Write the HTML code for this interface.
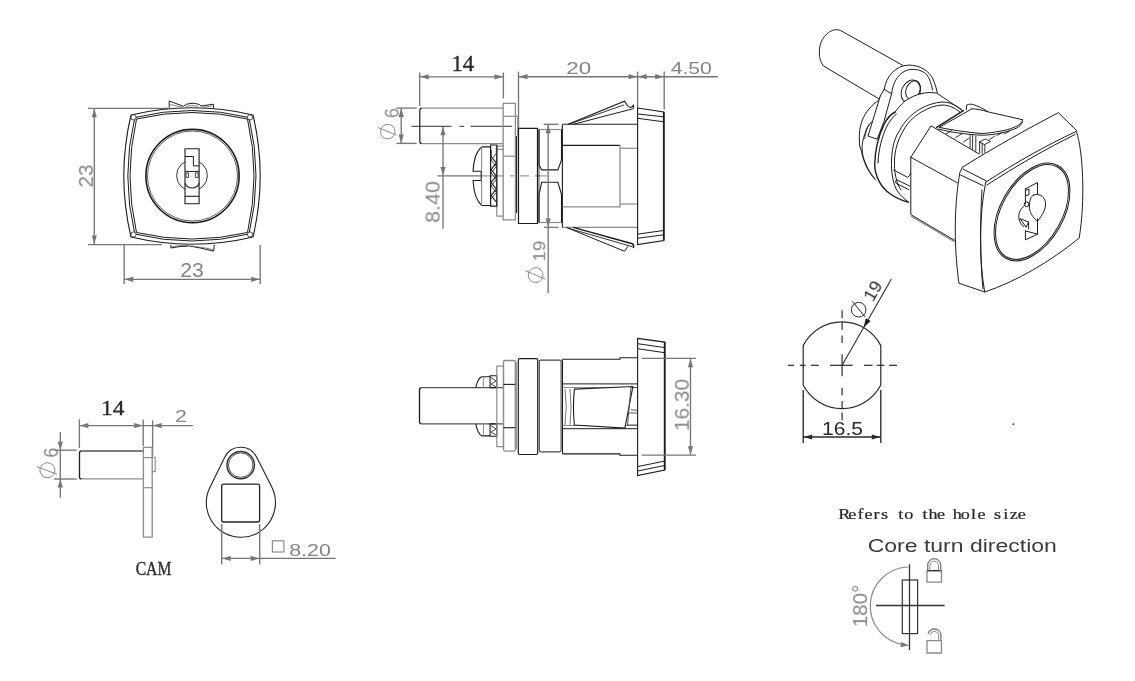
<!DOCTYPE html>
<html><head><meta charset="utf-8"><style>
html,body{margin:0;padding:0;background:#fff;}
svg{display:block;}
svg text{will-change:transform;}
</style></head><body>
<svg width="1135" height="681" viewBox="0 0 1135 681">
<rect width="1135" height="681" fill="#fff"/>
<line x1="88" y1="108.3" x2="168" y2="108.3" stroke="#767676" stroke-width="1.35" />
<line x1="88" y1="244.6" x2="162" y2="244.6" stroke="#767676" stroke-width="1.35" />
<line x1="94.3" y1="108.3" x2="94.3" y2="244.6" stroke="#767676" stroke-width="1.35" />
<path d="M94.30,108.80 L96.90,117.30 L91.70,117.30 Z" fill="#767676"/>
<path d="M94.30,244.10 L91.70,235.60 L96.90,235.60 Z" fill="#767676"/>
<line x1="124.2" y1="245" x2="124.2" y2="284" stroke="#767676" stroke-width="1.35" />
<line x1="260.2" y1="245" x2="260.2" y2="284" stroke="#767676" stroke-width="1.35" />
<line x1="124.2" y1="279.3" x2="260.2" y2="279.3" stroke="#767676" stroke-width="1.35" />
<path d="M124.70,279.30 L133.20,276.70 L133.20,281.90 Z" fill="#767676"/>
<path d="M259.70,279.30 L251.20,281.90 L251.20,276.70 Z" fill="#767676"/>
<path d="M131,115 Q192.0,100.6 253,115 Q267.4,176.0 253,237 Q192.0,251.4 131,237 Q116.6,176.0 131,115 Z" stroke="#1c1c1c" stroke-width="1.1" fill="none" />
<path d="M134.8,117.5 Q191.9,103.5 249,117.5 Q263.0,175.75 249,234 Q191.9,248.0 134.8,234 Q120.80000000000001,175.75 134.8,117.5 Z" stroke="#1c1c1c" stroke-width="1.0" fill="none" />
<path d="M136.5,119 Q192.0,106.0 247.5,119 Q260.5,175.75 247.5,232.5 Q192.0,245.5 136.5,232.5 Q123.5,175.75 136.5,119 Z" stroke="#1c1c1c" stroke-width="1.0" fill="none" />
<circle cx="133.5" cy="117.3" r="2.6" stroke="#1c1c1c" stroke-width="0.8" fill="#fff"/>
<circle cx="250" cy="117.3" r="2.6" stroke="#1c1c1c" stroke-width="0.8" fill="#fff"/>
<circle cx="250" cy="234.5" r="2.6" stroke="#1c1c1c" stroke-width="0.8" fill="#fff"/>
<circle cx="133.5" cy="234.5" r="2.6" stroke="#1c1c1c" stroke-width="0.8" fill="#fff"/>
<path d="M169.2,108 L169.2,101 L183.5,106.3 Q185,103.8 192,103.2 Q199,103.5 201,106 L213.4,104.2 L213.4,108" stroke="#1c1c1c" stroke-width="1.0" fill="none" />
<path d="M170.5,104.5 L182,107.3 M186,106.3 Q192,104.8 198,106.3 M202,107.4 L212,106" stroke="#666" stroke-width="0.8" fill="none" />
<path d="M170.9,244.8 L170.9,248 Q180,246 189.4,246 Q200,247.5 213.7,251.2 L214.3,244.8" stroke="#1c1c1c" stroke-width="1.0" fill="none" />
<path d="M172,246.6 Q180,245.2 188,245.4 M192,246.2 Q203,247 213,249.6" stroke="#666" stroke-width="0.8" fill="none" />
<circle cx="192.5" cy="176" r="46.6" stroke="#1c1c1c" stroke-width="1.6" fill="none"/>
<circle cx="192.5" cy="176" r="45" stroke="#1c1c1c" stroke-width="0.7" fill="none"/>
<circle cx="192" cy="175.5" r="15.4" stroke="#1c1c1c" stroke-width="0.9" fill="none"/>
<path d="M185,148.8 L199.1,148.8 L199.1,203.8 L185,203.8 Z" stroke="#1c1c1c" stroke-width="1.1" fill="#fff" />
<path d="M185,156.5 L193.4,156.5 L193.4,165.9 L199.1,165.9" stroke="#1c1c1c" stroke-width="1.0" fill="none" />
<path d="M185,171.4 L199.1,171.4" stroke="#1c1c1c" stroke-width="1.0" fill="none" />
<path d="M186,172.9 L188.5,172.9 L188.5,177.4 L186,177.4 Z M195.4,172.9 L198.2,172.9 L198.2,177.4 L195.4,177.4 Z" stroke="#1c1c1c" stroke-width="0.8" fill="none" />
<path d="M185,183.3 A7.6,7.6 0 0 0 199.1,183.3" stroke="#1c1c1c" stroke-width="1.1" fill="none" />
<path d="M185,196.3 L199.1,196.3" stroke="#1c1c1c" stroke-width="1.1" fill="none" />
<line x1="419.7" y1="72.5" x2="419.7" y2="106" stroke="#767676" stroke-width="1.35" />
<line x1="503.4" y1="72.5" x2="503.4" y2="98.5" stroke="#767676" stroke-width="1.35" />
<line x1="419.7" y1="76.8" x2="503.4" y2="76.8" stroke="#767676" stroke-width="1.35" />
<path d="M420.20,76.80 L428.70,74.20 L428.70,79.40 Z" fill="#767676"/>
<path d="M502.90,76.80 L494.40,79.40 L494.40,74.20 Z" fill="#767676"/>
<line x1="518.5" y1="71.6" x2="518.5" y2="128.4" stroke="#767676" stroke-width="1.35" />
<line x1="637.6" y1="71.6" x2="637.6" y2="108" stroke="#767676" stroke-width="1.35" />
<line x1="664.2" y1="71.6" x2="664.2" y2="109.6" stroke="#767676" stroke-width="1.35" />
<line x1="518.5" y1="76.7" x2="717.9" y2="76.7" stroke="#767676" stroke-width="1.35" />
<path d="M519.00,76.70 L527.50,74.10 L527.50,79.30 Z" fill="#767676"/>
<path d="M637.10,76.70 L628.60,79.30 L628.60,74.10 Z" fill="#767676"/>
<path d="M638.10,76.70 L646.60,74.10 L646.60,79.30 Z" fill="#767676"/>
<path d="M663.70,76.70 L655.20,79.30 L655.20,74.10 Z" fill="#767676"/>
<line x1="396.4" y1="108.1" x2="416.7" y2="108.1" stroke="#767676" stroke-width="1.35" />
<line x1="396.4" y1="143.4" x2="416.7" y2="143.4" stroke="#767676" stroke-width="1.35" />
<line x1="401.2" y1="108.6" x2="401.2" y2="142.9" stroke="#767676" stroke-width="1.35" />
<path d="M401.20,108.60 L403.80,117.10 L398.60,117.10 Z" fill="#767676"/>
<path d="M401.20,142.90 L398.60,134.40 L403.80,134.40 Z" fill="#767676"/>
<line x1="443.0" y1="126.3" x2="443.0" y2="228.8" stroke="#767676" stroke-width="1.35" />
<path d="M443.00,126.80 L445.60,135.30 L440.40,135.30 Z" fill="#767676"/>
<path d="M443.00,175.40 L440.40,166.90 L445.60,166.90 Z" fill="#767676"/>
<line x1="437.4" y1="175.9" x2="481" y2="175.9" stroke="#767676" stroke-width="1.35" />
<line x1="411.3" y1="126.3" x2="451.5" y2="126.3" stroke="#333" stroke-width="1.0" />
<line x1="459.3" y1="126.3" x2="464.2" y2="126.3" stroke="#333" stroke-width="1.0" />
<line x1="470.5" y1="126.3" x2="512.1" y2="126.3" stroke="#333" stroke-width="1.0" />
<line x1="481" y1="175.9" x2="503.7" y2="175.9" stroke="#8c8c8c" stroke-width="1.1" />
<line x1="510" y1="175.9" x2="514.2" y2="175.9" stroke="#8c8c8c" stroke-width="1.1" />
<line x1="520" y1="175.9" x2="529" y2="175.9" stroke="#8c8c8c" stroke-width="1.1" />
<line x1="535" y1="175.9" x2="547.4" y2="175.9" stroke="#8c8c8c" stroke-width="1.1" />
<line x1="421.5" y1="108.2" x2="503" y2="108.2" stroke="#8c8c8c" stroke-width="1.3" />
<line x1="421.5" y1="143.6" x2="503" y2="143.6" stroke="#8c8c8c" stroke-width="1.3" />
<path d="M421.8,108.2 Q419.8,108.2 419.8,110.5 L419.8,141.3 Q419.8,143.6 421.8,143.6" stroke="#1c1c1c" stroke-width="1.2" fill="none" />
<path d="M503.2,103.4 L515.4,103.4 L515.4,219.8 L503.2,219.8 Z" stroke="#8c8c8c" stroke-width="1.3" fill="none" />
<line x1="503.2" y1="116.3" x2="517.7" y2="116.3" stroke="#8c8c8c" stroke-width="1.2" />
<line x1="503.2" y1="156.2" x2="515.4" y2="156.2" stroke="#8c8c8c" stroke-width="1.2" />
<line x1="517.7" y1="116.3" x2="517.7" y2="136" stroke="#8c8c8c" stroke-width="1.0" />
<line x1="516.6" y1="136" x2="516.6" y2="213" stroke="#1c1c1c" stroke-width="1.1" />
<path d="M496.8,146.2 L503.2,146.2 M496.8,149.4 L503.2,149.4 M496.8,146.2 L496.8,216.1 L503.2,216.1" stroke="#8c8c8c" stroke-width="1.2" fill="none" />
<path d="M490.6,145 L496.8,145 L496.8,206.1 L490.6,206.1 Z" stroke="#1c1c1c" stroke-width="1.2" fill="none" />
<path d="M491,150 L491.1,156.5 L496.3,163.0 L491.1,169.5 L496.3,176.0 L491.1,182.5 L496.3,189.0 L491.1,195.5 L496.3,202.0" stroke="#1c1c1c" stroke-width="1.2" fill="none" />
<path d="M496.3,147 L496.3,153.5 L491.1,160.0 L496.3,166.5 L491.1,173.0 L496.3,179.5 L491.1,186.0 L496.3,192.5 L491.1,199.0" stroke="#333" stroke-width="0.9" fill="none" />
<path d="M490.6,146.9 L481.8,146.9 Q474,153 473.1,171.2 L481.2,171.2 L481.2,180.5 L473.1,180.5 Q474,199 481.8,205.5 L490.6,205.5" stroke="#1c1c1c" stroke-width="1.1" fill="none" />
<line x1="481.6" y1="147" x2="481.6" y2="171" stroke="#8c8c8c" stroke-width="1.1" />
<line x1="481.6" y1="180.5" x2="481.6" y2="205.5" stroke="#8c8c8c" stroke-width="1.1" />
<path d="M518.5,128.4 L537.5,128.4 L537.5,223.5 L518.5,223.5 Z" stroke="#1c1c1c" stroke-width="1.2" fill="none" />
<line x1="539.0" y1="129.5" x2="539.0" y2="222.5" stroke="#1c1c1c" stroke-width="0.8" />
<line x1="538.9" y1="129.5" x2="561.5" y2="129.5" stroke="#8c8c8c" stroke-width="1.2" />
<line x1="538.9" y1="222.5" x2="561.5" y2="222.5" stroke="#8c8c8c" stroke-width="1.2" />
<path d="M539,129.5 L539,165 L541.7,169.9 L557.9,169.9 L561.5,160 L561.5,129.5" stroke="#1c1c1c" stroke-width="1.1" fill="none" />
<path d="M539,222.5 L539,194.6 L541.7,182.3 L557.9,182.3 L561.5,194.6 L561.5,222.5" stroke="#1c1c1c" stroke-width="1.1" fill="none" />
<line x1="543.8" y1="124.3" x2="558.6" y2="124.3" stroke="#767676" stroke-width="1.35" />
<line x1="543.8" y1="227.4" x2="558.6" y2="227.4" stroke="#767676" stroke-width="1.35" />
<line x1="548.2" y1="124.3" x2="548.2" y2="293" stroke="#767676" stroke-width="1.35" />
<path d="M548.20,124.80 L550.80,133.30 L545.60,133.30 Z" fill="#767676"/>
<path d="M548.20,226.90 L545.60,218.40 L550.80,218.40 Z" fill="#767676"/>
<line x1="562.4" y1="124.3" x2="637.6" y2="124.3" stroke="#1c1c1c" stroke-width="1.1" />
<line x1="562.4" y1="227.4" x2="637.6" y2="227.4" stroke="#8c8c8c" stroke-width="1.3" />
<line x1="562.4" y1="124.3" x2="562.4" y2="227.4" stroke="#1c1c1c" stroke-width="1.1" />
<line x1="562.4" y1="145.3" x2="620" y2="145.3" stroke="#1c1c1c" stroke-width="1.2" />
<path d="M620,145.3 L620,206.9 L562.4,206.9" stroke="#8c8c8c" stroke-width="1.3" fill="none" />
<line x1="620" y1="148.3" x2="637.6" y2="148.3" stroke="#8c8c8c" stroke-width="1.2" />
<line x1="620" y1="204" x2="637.6" y2="204" stroke="#8c8c8c" stroke-width="1.2" />
<path d="M637.6,108 L663.8,111.9 L663.8,240.6 L637.6,244.6 Z" stroke="#1c1c1c" stroke-width="1.1" fill="none" />
<line x1="663.8" y1="112" x2="663.8" y2="240.5" stroke="#1c1c1c" stroke-width="1.8" />
<line x1="637.6" y1="114" x2="663.8" y2="116.8" stroke="#1c1c1c" stroke-width="1.0" />
<line x1="637.6" y1="118.3" x2="663.8" y2="121.8" stroke="#1c1c1c" stroke-width="1.0" />
<line x1="637.6" y1="238.3" x2="663.8" y2="234.8" stroke="#1c1c1c" stroke-width="1.0" />
<line x1="637.6" y1="234.1" x2="663.8" y2="230.5" stroke="#1c1c1c" stroke-width="1.0" />
<path d="M568.1,124.3 L624.5,101.2 C626,103 627,106.5 629.5,107.2 C631.5,107.6 633,106.5 633.5,104.6 L633.5,108.2" stroke="#1c1c1c" stroke-width="1.1" fill="none" />
<path d="M568.7,124.3 L624,104.9" stroke="#1c1c1c" stroke-width="0.9" fill="none" />
<path d="M573.3,124.3 L633.3,108.7" stroke="#1c1c1c" stroke-width="1.0" fill="none" />
<path d="M566.3,227.4 L624.6,251.3 L627.9,246.3" stroke="#1c1c1c" stroke-width="1.0" fill="none" />
<path d="M567.5,228 L632.3,246.7" stroke="#1c1c1c" stroke-width="0.9" fill="none" />
<path d="M573.2,227.4 L632.3,243.7 Q634.2,244.6 633.4,248.1" stroke="#1c1c1c" stroke-width="1.5" fill="none" />
<line x1="421.5" y1="387.6" x2="503.5" y2="387.6" stroke="#555" stroke-width="1.2" />
<line x1="421.5" y1="423.9" x2="503.5" y2="423.9" stroke="#555" stroke-width="1.2" />
<path d="M421.5,387.6 Q419.5,387.6 419.5,390 L419.5,421.5 Q419.5,423.9 421.5,423.9" stroke="#1c1c1c" stroke-width="1.3" fill="none" />
<path d="M475.8,387.6 Q477.5,379 481.5,376.7 L490.1,376.7" stroke="#1c1c1c" stroke-width="1.1" fill="none" />
<path d="M475.8,423.9 Q477.5,433 481.5,435.9 L490.1,435.9" stroke="#1c1c1c" stroke-width="1.1" fill="none" />
<line x1="483.4" y1="376.7" x2="483.4" y2="387.6" stroke="#8c8c8c" stroke-width="1.0" />
<line x1="483.4" y1="423.9" x2="483.4" y2="435.9" stroke="#8c8c8c" stroke-width="1.0" />
<path d="M490.1,375.8 L496.8,375.8 L496.8,387.6 L490.1,387.6 Z M490.1,423.9 L496.8,423.9 L496.8,436.2 L490.1,436.2 Z" stroke="#1c1c1c" stroke-width="1.1" fill="none" />
<path d="M491,377.5 L496,381 L491,384 L496,387 M491,425.5 L496,429 L491,432 L496,435" stroke="#1c1c1c" stroke-width="0.8" fill="none" />
<path d="M496.8,366.2 L503.5,366.2 L503.5,446.7 L496.8,446.7 Z" stroke="#8c8c8c" stroke-width="1.2" fill="none" />
<path d="M505,360.5 L514,360.5 Q515.3,360.5 515.3,362 L515.3,449.6 Q515.3,451.1 514,451.1 L505,451.1 Q503.5,451.1 503.5,449.6 L503.5,362 Q503.5,360.5 505,360.5 Z" stroke="#8c8c8c" stroke-width="1.3" fill="none" />
<line x1="503.5" y1="384.4" x2="515.3" y2="384.4" stroke="#1c1c1c" stroke-width="1.1" />
<line x1="503.5" y1="427.7" x2="515.3" y2="427.7" stroke="#1c1c1c" stroke-width="1.1" />
<line x1="516.4" y1="362" x2="516.4" y2="449" stroke="#8c8c8c" stroke-width="1.0" />
<path d="M519.8,358.7 L536.2,358.7 Q537.7,358.7 537.7,360.2 L537.7,453 Q537.7,454.5 536.2,454.5 L519.8,454.5 Q518.3,454.5 518.3,453 L518.3,360.2 Q518.3,358.7 519.8,358.7 Z" stroke="#1c1c1c" stroke-width="1.2" fill="none" />
<path d="M540.5,360.1 L559.8,360.1 Q561.1,360.1 561.1,361.5 L561.1,450 Q561.1,451.9 559.5,451.9 L541,451.9 Q539.3,451.9 539.3,450 L539.3,361.5 Q539.3,360.1 540.5,360.1 Z" stroke="#444" stroke-width="1.1" fill="none" />
<path d="M562.5,359.3 L620,359.3 L620,357.7 L637.5,357.7 M562.5,453.9 L620,453.9 L620,455.2 L637.5,455.2" stroke="#1c1c1c" stroke-width="1.1" fill="none" />
<line x1="562.5" y1="359.3" x2="562.5" y2="453.9" stroke="#1c1c1c" stroke-width="1.1" />
<line x1="562.5" y1="383.9" x2="637.5" y2="383.9" stroke="#1c1c1c" stroke-width="1.0" />
<line x1="562.5" y1="387.5" x2="637.5" y2="387.5" stroke="#8c8c8c" stroke-width="1.0" />
<line x1="562.5" y1="425.5" x2="637.5" y2="425.5" stroke="#8c8c8c" stroke-width="1.0" />
<line x1="562.5" y1="428.7" x2="637.5" y2="428.7" stroke="#1c1c1c" stroke-width="1.0" />
<path d="M574.4,389.1 L632.9,386.5 L624.9,428.1 L574.4,425.1 Q572.5,407 574.4,389.1 Z" stroke="#1c1c1c" stroke-width="1.1" fill="#fff" />
<path d="M565,389 Q567.5,407 565,425 M570,389 Q572,407 570,425" stroke="#555" stroke-width="0.8" fill="none" />
<path d="M630.9,387.5 L637,387.5 M630.9,410 L637,410 M629,413 L637,413 M627.5,425 L637,425" stroke="#444" stroke-width="0.9" fill="none" />
<line x1="630.9" y1="387.5" x2="627.5" y2="425.5" stroke="#444" stroke-width="0.9" />
<path d="M637.6,338.4 L664.7,342.1 L664.7,470 L637.6,475.5 Z" stroke="#1c1c1c" stroke-width="1.1" fill="none" />
<line x1="664.7" y1="342.1" x2="664.7" y2="470" stroke="#1c1c1c" stroke-width="1.8" />
<line x1="637.6" y1="343.7" x2="664.7" y2="347.6" stroke="#1c1c1c" stroke-width="1.0" />
<line x1="637.6" y1="348.7" x2="664.7" y2="352.7" stroke="#1c1c1c" stroke-width="1.0" />
<line x1="637.6" y1="471" x2="664.7" y2="465.5" stroke="#1c1c1c" stroke-width="1.0" />
<line x1="637.6" y1="466.6" x2="664.7" y2="461.1" stroke="#1c1c1c" stroke-width="1.0" />
<line x1="641.7" y1="358.4" x2="696" y2="358.4" stroke="#767676" stroke-width="1.35" />
<line x1="641.7" y1="455.1" x2="696" y2="455.1" stroke="#767676" stroke-width="1.35" />
<line x1="690.5" y1="358.7" x2="690.5" y2="454.7" stroke="#767676" stroke-width="1.35" />
<path d="M690.50,358.70 L693.10,367.20 L687.90,367.20 Z" fill="#767676"/>
<path d="M690.50,454.70 L687.90,446.20 L693.10,446.20 Z" fill="#767676"/>
<line x1="79.4" y1="419.4" x2="79.4" y2="448" stroke="#767676" stroke-width="1.35" />
<line x1="143.2" y1="419.4" x2="143.2" y2="446" stroke="#767676" stroke-width="1.35" />
<line x1="79.4" y1="425.6" x2="192.9" y2="425.6" stroke="#767676" stroke-width="1.35" />
<path d="M79.90,425.60 L88.40,423.00 L88.40,428.20 Z" fill="#767676"/>
<path d="M142.70,425.60 L134.20,428.20 L134.20,423.00 Z" fill="#767676"/>
<path d="M153.10,425.60 L161.60,423.00 L161.60,428.20 Z" fill="#767676"/>
<line x1="152.6" y1="420.3" x2="152.6" y2="456" stroke="#767676" stroke-width="1.35" />
<line x1="81.5" y1="451" x2="143.4" y2="451" stroke="#555" stroke-width="1.3" />
<line x1="81.5" y1="478.9" x2="143.4" y2="478.9" stroke="#8c8c8c" stroke-width="1.3" />
<path d="M81.5,451 Q79.5,451 79.5,453 L79.5,476.9 Q79.5,478.9 81.5,478.9" stroke="#1c1c1c" stroke-width="1.3" fill="none" />
<path d="M143.4,447.3 L152.2,447.3 L152.2,537.2 L143.4,537.2 Z" stroke="#8c8c8c" stroke-width="1.3" fill="none" />
<line x1="143.4" y1="457.6" x2="152.2" y2="457.6" stroke="#8c8c8c" stroke-width="1.2" />
<line x1="143.4" y1="487.7" x2="152.2" y2="487.7" stroke="#8c8c8c" stroke-width="1.2" />
<path d="M152.2,457.3 L155.2,457.3 L155.2,471.6 L152.2,471.6" stroke="#8c8c8c" stroke-width="1.1" fill="none" />
<line x1="54.0" y1="450.2" x2="76.6" y2="450.2" stroke="#767676" stroke-width="1.35" />
<line x1="54.0" y1="479.0" x2="76.6" y2="479.0" stroke="#767676" stroke-width="1.35" />
<line x1="60.3" y1="432" x2="60.3" y2="497.8" stroke="#767676" stroke-width="1.35" />
<path d="M60.30,450.20 L57.70,441.70 L62.90,441.70 Z" fill="#767676"/>
<path d="M60.30,479.00 L62.90,487.50 L57.70,487.50 Z" fill="#767676"/>
<path d="M209.86,487.41 A34.6,34.6 0 1 0 271.77,487.08 L256.58,457.06 A17.8,17.8 0 0 0 224.73,457.23 Z" stroke="#222" stroke-width="1.1" fill="none" />
<circle cx="240.7" cy="465.1" r="13.7" stroke="#333" stroke-width="1.5" fill="none"/>
<circle cx="240.7" cy="465.1" r="12.2" stroke="#555" stroke-width="1.0" fill="none"/>
<path d="M223.7,484.2 L257.6,484.2 Q259.6,484.2 259.6,486.2 L259.6,520 Q259.6,522 257.6,522 L223.7,522 Q221.7,522 221.7,520 L221.7,486.2 Q221.7,484.2 223.7,484.2 Z" stroke="#222" stroke-width="1.3" fill="none" />
<line x1="221.7" y1="524" x2="221.7" y2="564.6" stroke="#767676" stroke-width="1.35" />
<line x1="259.7" y1="524" x2="259.7" y2="564.6" stroke="#767676" stroke-width="1.35" />
<line x1="221.7" y1="558.4" x2="335.7" y2="558.4" stroke="#767676" stroke-width="1.35" />
<path d="M222.20,558.40 L230.70,555.80 L230.70,561.00 Z" fill="#767676"/>
<path d="M259.20,558.40 L250.70,561.00 L250.70,555.80 Z" fill="#767676"/>
<rect x="272.4" y="540.8" width="11.5" height="11.2" stroke="#8a8a8a" stroke-width="1.2" fill="none"/>
<path d="M803.2,345.61 A43.6,43.6 0 0 1 880.8,345.61 L880.8,384.99 A43.6,43.6 0 0 1 803.2,384.99 Z" stroke="#2a2a2a" stroke-width="1.2" fill="none" />
<line x1="788" y1="365.3" x2="794" y2="365.3" stroke="#2a2a2a" stroke-width="1.2" />
<line x1="799.8" y1="365.3" x2="805.6" y2="365.3" stroke="#2a2a2a" stroke-width="1.2" />
<line x1="810.9" y1="365.3" x2="818.8" y2="365.3" stroke="#2a2a2a" stroke-width="1.2" />
<line x1="829.9" y1="365.3" x2="852.7" y2="365.3" stroke="#2a2a2a" stroke-width="1.2" />
<line x1="864.1" y1="365.3" x2="872.5" y2="365.3" stroke="#2a2a2a" stroke-width="1.2" />
<line x1="876.8" y1="365.3" x2="884.4" y2="365.3" stroke="#2a2a2a" stroke-width="1.2" />
<line x1="889.1" y1="365.3" x2="897.1" y2="365.3" stroke="#2a2a2a" stroke-width="1.2" />
<line x1="842.1" y1="310.3" x2="842.1" y2="318.2" stroke="#2a2a2a" stroke-width="1.2" />
<line x1="842.1" y1="322.2" x2="842.1" y2="329.7" stroke="#2a2a2a" stroke-width="1.2" />
<line x1="842.1" y1="335.4" x2="842.1" y2="342.9" stroke="#2a2a2a" stroke-width="1.2" />
<line x1="842.1" y1="354.3" x2="842.1" y2="376.3" stroke="#2a2a2a" stroke-width="1.2" />
<line x1="842.1" y1="387.7" x2="842.1" y2="395.2" stroke="#2a2a2a" stroke-width="1.2" />
<line x1="842.1" y1="400.9" x2="842.1" y2="408.6" stroke="#2a2a2a" stroke-width="1.2" />
<line x1="842.1" y1="412.6" x2="842.1" y2="420.3" stroke="#2a2a2a" stroke-width="1.2" />
<line x1="842.1" y1="365.3" x2="891.4" y2="279" stroke="#2a2a2a" stroke-width="1.1" />
<path d="M863.70,327.50 L865.73,318.30 L870.60,321.08 Z" fill="#1a1a1a"/>
<line x1="803.2" y1="390" x2="803.2" y2="443" stroke="#2a2a2a" stroke-width="1.35" />
<line x1="880.8" y1="390" x2="880.8" y2="443" stroke="#2a2a2a" stroke-width="1.35" />
<line x1="803.2" y1="437" x2="880.8" y2="437" stroke="#2a2a2a" stroke-width="1.4" />
<path d="M803.70,437.00 L812.20,434.40 L812.20,439.60 Z" fill="#2a2a2a"/>
<path d="M880.30,437.00 L871.80,439.60 L871.80,434.40 Z" fill="#2a2a2a"/>
<circle cx="1013.3" cy="424.1" r="0.9" fill="#222"/>
<line x1="909.5" y1="564.2" x2="909.5" y2="650" stroke="#333" stroke-width="1.3" />
<line x1="876" y1="605.5" x2="944.6" y2="605.5" stroke="#333" stroke-width="1.3" />
<rect x="902.3" y="580" width="15.3" height="53.6" stroke="#333" stroke-width="1.2" fill="none"/>
<path d="M908.5,567 A39,39 0 0 0 904.5,644.7" stroke="#8a8a8a" stroke-width="1.2" fill="none" />
<path d="M909.30,645.40 L900.58,647.14 L901.10,641.97 Z" fill="#7a7a7a"/>
<path d="M927,570.7 L941.5,570.7 L941.5,582.2 L927,582.2 Z" stroke="#8a8a8a" stroke-width="1.3" fill="none" />
<line x1="927" y1="570.7" x2="941.5" y2="570.7" stroke="#222" stroke-width="1.2" />
<path d="M927.7,570.7 L927.7,565.2 A6.5,6.5 0 0 1 940.7,565.2 L940.7,570.7" stroke="#7a7a7a" stroke-width="1.3" fill="none" />
<path d="M929.9,570.7 L929.9,565.5 A4.3,4.3 0 0 1 938.5,565.5 L938.5,570.7" stroke="#8a8a8a" stroke-width="1.0" fill="none" />
<path d="M927,640.7 L941.5,640.7 L941.5,653 L927,653 Z" stroke="#8a8a8a" stroke-width="1.3" fill="none" />
<path d="M928.1,634 A6.5,6.5 0 0 1 940.9,634.9 L940.9,640.7" stroke="#7a7a7a" stroke-width="1.3" fill="none" />
<path d="M930.3,634.6 A4.3,4.3 0 0 1 938.7,635 L938.7,640.7" stroke="#8a8a8a" stroke-width="1.0" fill="none" />
<text x="0" y="0" font-family="Liberation Sans" font-size="20.18" fill="#858585" text-anchor="middle" transform="translate(92.90 176.00) rotate(-90) scale(1.0176 1)">23</text>
<text x="0" y="0" font-family="Liberation Sans" font-size="19.51" fill="#858585" text-anchor="middle" transform="translate(192.00 276.70) scale(1.0882 1)">23</text>
<text x="0" y="0" font-family="Liberation Serif" font-size="23.85" fill="#2a2a2a" stroke="#2a2a2a" stroke-width="0.35" text-anchor="middle" transform="translate(462.75 70.60) scale(0.9490 1)">14</text>
<text x="0" y="0" font-family="Liberation Sans" font-size="16.67" fill="#858585" text-anchor="middle" transform="translate(578.75 74.00) scale(1.3458 1)">20</text>
<text x="0" y="0" font-family="Liberation Sans" font-size="16.67" fill="#858585" text-anchor="middle" transform="translate(691.25 74.00) scale(1.2715 1)">4.50</text>
<text x="0" y="0" font-family="Liberation Sans" font-size="20.20" fill="#858585" text-anchor="middle" transform="translate(398.70 113.00) rotate(-90) scale(0.8843 1)">6</text>
<text x="0" y="0" font-family="Liberation Sans" font-size="20.24" fill="#858585" text-anchor="middle" transform="translate(439.60 202.00) rotate(-90) scale(1.0607 1)">8.40</text>
<text x="0" y="0" font-family="Liberation Sans" font-size="17.37" fill="#858585" text-anchor="middle" transform="translate(545.20 251.25) rotate(-90) scale(1.0901 1)">19</text>
<text x="0" y="0" font-family="Liberation Sans" font-size="19.51" fill="#858585" text-anchor="middle" transform="translate(688.80 405.00) rotate(-90) scale(1.0675 1)">16.30</text>
<text x="0" y="0" font-family="Liberation Serif" font-size="21.75" fill="#2a2a2a" stroke="#2a2a2a" stroke-width="0.35" text-anchor="middle" transform="translate(112.75 415.40) scale(1.0733 1)">14</text>
<text x="0" y="0" font-family="Liberation Sans" font-size="17.37" fill="#858585" text-anchor="middle" transform="translate(181.00 422.20) scale(1.2330 1)">2</text>
<text x="0" y="0" font-family="Liberation Sans" font-size="20.15" fill="#858585" text-anchor="middle" transform="translate(57.80 452.50) rotate(-90) scale(0.8884 1)">6</text>
<text x="0" y="0" font-family="Liberation Serif" font-size="19.49" fill="#2a2a2a" stroke="#2a2a2a" stroke-width="0.35" text-anchor="middle" transform="translate(153.50 574.60) scale(0.8038 1)">CAM</text>
<text x="0" y="0" font-family="Liberation Sans" font-size="17.42" fill="#858585" text-anchor="middle" transform="translate(310.00 556.00) scale(1.2280 1)">8.20</text>
<text x="0" y="0" font-family="Liberation Sans" font-size="18.76" fill="#2a2a2a" text-anchor="middle" transform="translate(842.50 434.80) scale(1.1168 1)">16.5</text>
<text x="0" y="0" font-family="Liberation Sans" font-size="18.12" fill="#3c3c3c" text-anchor="middle" transform="translate(962.25 552.30) scale(1.2702 1)">Core turn direction</text>
<text x="0" y="0" font-family="Liberation Sans" font-size="19.49" fill="#858585" text-anchor="middle" transform="translate(867.10 606.00) rotate(-90) scale(1.0545 1)">180°</text>
<text x="659.61 665.91 672.22 678.52 684.83 691.13 697.44 703.74 710.05 716.35 722.66 728.96 735.27 741.57 747.88 754.18 760.48 766.79 773.09 779.40 785.70 792.01 798.31" y="519.3" font-family="Liberation Serif" font-size="14.2" fill="#2a2a2a" stroke="#2a2a2a" stroke-width="0.22" text-anchor="middle" transform="scale(1.28 1)">Refers to the hole size</text>
<circle cx="387.8" cy="131.6" r="7.3" stroke="#8a8a8a" stroke-width="1.0" fill="none"/>
<line x1="378.1" y1="127.5" x2="396.4" y2="135.2" stroke="#8a8a8a" stroke-width="1.0"/>
<circle cx="535.6" cy="275.1" r="7.4" stroke="#8a8a8a" stroke-width="1.0" fill="none"/>
<line x1="525.3" y1="270.6" x2="545.4" y2="279.2" stroke="#8a8a8a" stroke-width="1.0"/>
<circle cx="47.4" cy="470.2" r="7.5" stroke="#8a8a8a" stroke-width="1.0" fill="none"/>
<line x1="37" y1="466.7" x2="57" y2="474.3" stroke="#8a8a8a" stroke-width="1.0"/>
<circle cx="858.7" cy="309.7" r="7.3" stroke="#2a2a2a" stroke-width="1.0" fill="none"/>
<line x1="852.3" y1="301.3" x2="865.2" y2="317" stroke="#2a2a2a" stroke-width="1.0"/>
<text x="0" y="0" font-family="Liberation Sans" font-size="16.5" fill="#2a2a2a" text-anchor="middle" transform="translate(878.0 293.8) rotate(-60) scale(1.1 1)">19</text>
<g id="iso" fill="none" stroke="#1c1c1c" stroke-width="1" stroke-linejoin="round" stroke-linecap="round">
<!-- shaft -->
<path d="M903,65.5 L840.8,30.6 C832,27 823,35 820.2,45 C818.3,53 819.5,61 823.5,66 L880,99.5 Z" fill="#fff" stroke="none"/>
<path d="M903,65.5 L840.8,30.6 C832,27 823,35 820.2,45 C818.3,53 819.5,61 823.5,66 L880,99.5"/>
<!-- washer behind (left arcs) -->
<path d="M879.3,99.6 C871,105 865,112 861.5,122 C858.5,131 858.2,140 859.2,147 C860.5,158 866,170 876,180 L895,195 L900,100 Z" fill="#fff" stroke="none"/>
<path d="M878.5,100.3 C872,105 865,112 862,121 C859.5,128 859.2,133 859.3,139 L859.6,146 L861.3,150.6 C862,155 863,158 864.5,162 C867,169 871,175 875.5,180"/>
<path d="M871.9,121.5 C868.5,125 866,129 865,133.4 C863,139 862,144 862,148 C862.3,154 863.3,158 865.2,162.5 C867.5,169 871,174 874.5,178.4"/>
<path d="M869.2,124.1 C867,128 865.5,133 864.6,138.7" stroke-width="0.8"/>
<!-- cam plate -->
<path d="M868,136.1 L884.2,89.4 C886,76 896,65.5 908.5,65.1 C920,65 929,71 933,79 C935,84 936.4,88 937,93 L930,112 L877.2,139.2 Z" fill="#fff" stroke="none"/>
<path d="M884.2,89.4 C886,76 896,65.5 908.5,65.1 C920,65 929,71 933,79 C935,84 936.4,88 937.5,94"/>
<path d="M891.6,93.8 C892.5,84 897,75 905,71 C912,68 921,69 926.8,74.7 C929.5,78 931.5,84 932.5,90"/>
<path d="M884.2,89.4 L891.6,93.8"/>
<path d="M880.3,96 L868,136.1 L877.2,139.2 L883.9,121.7 L891.6,93.8"/>
<path d="M884.2,89.4 L880.3,96"/>
<ellipse cx="910.8" cy="91.5" rx="9.2" ry="11.8" transform="rotate(25 910.8 91.5)" fill="#fff"/>
<ellipse cx="913" cy="90" rx="6.8" ry="9.6" transform="rotate(25 913 90)"/>
<!-- nut ring -->
<path d="M874.7,165 C874.5,150 877,140 883.9,124.8 C887,118 891,114 895.2,112 C898,108 901,104.5 905,101 C911,97 916,95 920.6,93.7 C926,92.3 932,92.3 936.9,93.2 L962.9,110.8 L990,125 L960,200 L908,202.5 C895,198 881,188 876,178 C875,172 874.7,168 874.7,165 Z" fill="#fff" stroke="none"/>
<path d="M920.6,93.7 C926,92.3 932,92.3 936.9,93.2 L962.9,110.8"/>
<path d="M905,101 C911,97 916,95 920.6,93.7"/>
<path d="M895.2,112 C898,108 901,104.5 905,101"/>
<path d="M895.2,112 C891,114 887,118 883.9,124.8 C879,135 875,148 874.7,165 C875,176 881,188 890.5,194 C896,198 902,200.5 908.1,202.2" stroke-width="1.4"/>
<path d="M896.5,114 C892,117.5 889,122 886.5,127 C882,137 878.5,149 878,163"/>
<path d="M962.9,110.8 C957,105.5 950,102 942,102 C935,102.5 927,105 920,109 C911,114.3 904,122 899.6,130.5 C895,137 892,147 891.5,160 C891,172 893,185 898,192 C901,196 905,199.5 908.6,202.1"/>
<path d="M960.5,112.5 C955,108 949,105 942,105 C935,105.5 928,108 921.5,112 C913,117 906.5,124 902.5,132 C898,140 895,149 894.5,160 C894,171 896,183 901,190"/>
<path d="M893.8,170 L907.5,177.3 Q910,176.5 910.5,173"/>
<path d="M896.5,179.6 L909.5,186"/>
<path d="M896.5,179.6 Q894.5,181.5 896.3,183.5 L908.5,189.5"/>
<!-- body block -->
<path d="M910.8,157.3 L931,125.8 L980,154 L962,172 L954.5,240.3 L910.8,214.6 Z" fill="#fff" stroke="none"/>
<path d="M910.8,157.3 L931,125.8 L979,153.9"/>
<path d="M910.8,157.3 L957.5,182.9"/>
<path d="M910.8,157.3 L910.8,214.6 L954.5,240.3"/>
<path d="M911.5,216.5 L954,241.5" stroke-width="0.7"/>
<!-- latch -->
<path d="M936.7,127.4 L966.3,109.3 L966.7,105 C969,104 971,104 972.9,104.5 C978,106 983,108.5 987.3,111.2 L1023,119.8 C1021,123.5 1019,125.5 1015.9,126.5 C1010,129.5 1003,131 996.8,131.7 C990,133.5 985,134 982.5,135 L958.6,131.5 Z" fill="#fff" stroke="none"/>
<path d="M936.7,127.4 L963.4,110.7" stroke-width="1.5"/>
<path d="M939.5,127.2 L972,108.8"/>
<path d="M966.3,109.5 L966.7,105 C969,104 971,104 972.9,104.5 C978,106 983,108.5 987.3,111.2"/>
<path d="M972,108.8 C977,109 983,110 987.3,111.7 L1023,119.8 C1021,123.5 1019,125.5 1015.9,126.5 C1010,129.5 1003,131 996.8,131.7 C990,133 985,133.3 982.5,133.4"/>
<path d="M939.5,127.4 C946,128.7 952,130 958.6,130.8 C967,132 975,133 982.5,133.6"/>
<path d="M938.5,129 C946,130.8 952,132.3 958.6,133 C967,134.2 975,135 982.5,135.2 C995,135 1008,132 1017,127.9 C1019.5,126.5 1021.5,124.5 1022.5,122"/>
<path d="M946,133.8 L951.5,130.8 M955.8,137.5 L962.4,133.4 M963.5,141.8 L968.5,138.5 M989.5,139.6 L994.5,136.3 M996.8,135.6 L1002.5,132.5 M1004.5,133.8 L1009.5,131.2" stroke-width="0.9"/>
<path d="M970.1,135.2 L970.1,148.4 M972.6,135.6 L972.6,149.8 M975.8,136.3 L975.8,151.2" stroke-width="0.9"/>
<path d="M979.6,141.8 L985.3,139 L990.5,141.5 L984.8,144.4 Z M979.6,141.8 L979.6,153.2 M982.2,143.1 L982.2,154.2 M984.8,144.4 L984.8,152.4" stroke-width="0.9"/>
<!-- bezel -->
<path d="M962.6,167.1 C990,150 1025,130 1058.4,112.7 L1076.9,130.8 C1083,150 1085.5,200 1079.2,238 C1050,262 1015,282 984.7,292 L958.9,283.2 C953,240 955,200 959.9,172.4 Z" fill="#fff" stroke="none"/>
<path d="M962.6,167.1 C990,150 1025,130 1058.4,112.7 L1076.9,130.8"/>
<path d="M962.6,167.1 L959.9,172.4 C955,200 953,240 958.9,283.2 L984.7,292"/>
<path d="M963.2,169.1 L986.4,181 M960.6,175 L983,185.6"/>
<path d="M985.7,182.3 C1015,163 1045,146 1076.3,131.4 C1083,150 1085.5,200 1079.2,238 C1050,262 1015,282 984.7,292 C979,260 979,215 985.7,182.3 Z"/>
<path d="M987,185 C1016,166 1046,149 1075,134.5"/>
<path d="M982,190 C980,220 980,260 983,289"/>
<ellipse cx="1032" cy="212" rx="31.5" ry="53.2" transform="rotate(29.5 1032 212)"/>
<ellipse cx="1032" cy="212" rx="30" ry="51.7" transform="rotate(29.5 1032 212)"/>
<!-- keyway -->
<path d="M1025.4,188.9 L1037.5,182.5 L1037.5,193.8 M1025.4,188.9 L1025.4,204"/>
<path d="M1025.4,190.5 L1029,189 L1029,194.6 L1025.4,196"/>
<path d="M1033.5,195 C1040,193 1046,197 1045.5,205 C1045,212 1040,218 1037.5,221.2 C1033,218 1029,212 1029.4,206 C1029.6,200 1031,196 1033.5,195 Z"/>
<circle cx="1026.7" cy="204.3" r="2.4"/>
<path d="M1024.5,205.5 C1020,209 1018,214 1019,219 C1020,223 1022,226 1023.8,226.9"/>
<path d="M1020.5,218.8 L1028.6,222 L1026.2,226.9 Z"/>
<path d="M1025.4,230.9 L1025.4,239.8 L1037.5,234.2 L1037.5,218.8 M1025.4,230.9 L1037.5,234.2 M1028.6,222 L1028.6,229"/>
</g>

</svg></body></html>
